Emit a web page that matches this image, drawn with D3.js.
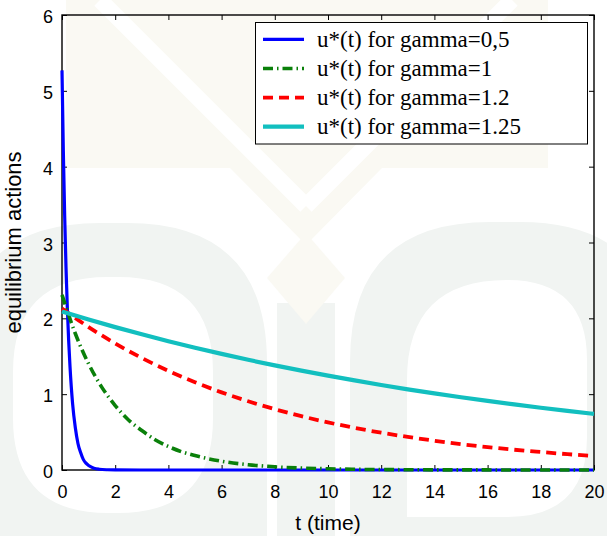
<!DOCTYPE html>
<html>
<head>
<meta charset="utf-8">
<script src="https://cdn.jsdelivr.net/npm/d3@7"></script>
<style>
  html, body { margin: 0; padding: 0; background: #ffffff; }
  svg { display: block; }
  .serif { font-family: "Liberation Serif", "Times New Roman", Times, "DejaVu Serif", "Noto Serif", serif; }
  .sans { font-family: "Liberation Sans", Arial, Helvetica, sans-serif; }
</style>
</head>
<body>
<svg id="chart" width="607" height="536"></svg>
<script>
// ---------------- data ----------------
const seriesNames = [
  "u*(t) for gamma=0,5",
  "u*(t) for gamma=1",
  "u*(t) for gamma=1.2",
  "u*(t) for gamma=1.25"
];
const tBlue  = [0, 0.05, 0.1, 0.15, 0.2, 0.25, 0.3, 0.4, 0.5, 0.6, 0.7, 0.8, 0.9, 1.0, 1.2, 1.4, 1.7, 2, 4, 6, 8, 10, 12, 14, 16, 18, 20];
const uBlue  = [5.27, 4.21, 3.36, 2.68, 2.14, 1.71, 1.37, 0.87, 0.56, 0.35, 0.23, 0.14, 0.09, 0.06, 0.024, 0.01, 0.003, 0.001, 0, 0, 0, 0, 0, 0, 0, 0, 0];
const tGreen = [0, 0.5, 1, 1.5, 2, 2.5, 3, 3.5, 4, 4.5, 5, 6, 7, 8, 9, 10, 11, 12, 14, 16, 18, 20];
const uGreen = [2.31, 1.80, 1.40, 1.09, 0.85, 0.66, 0.52, 0.40, 0.31, 0.24, 0.19, 0.115, 0.07, 0.042, 0.026, 0.016, 0.009, 0.006, 0.002, 0.001, 0, 0];
const tRed   = [0, 1, 2, 3, 4, 5, 6, 7, 8, 9, 10, 11, 12, 13, 14, 15, 16, 17, 18, 19, 20];
const uRed   = [2.13, 1.885, 1.669, 1.477, 1.307, 1.157, 1.024, 0.906, 0.802, 0.710, 0.628, 0.556, 0.492, 0.436, 0.386, 0.341, 0.302, 0.267, 0.237, 0.209, 0.185];
const tCyan  = [0, 1, 2, 3, 4, 5, 6, 7, 8, 9, 10, 11, 12, 13, 14, 15, 16, 17, 18, 19, 20];
const uCyan  = [2.09, 1.984, 1.884, 1.789, 1.698, 1.612, 1.531, 1.453, 1.380, 1.310, 1.244, 1.181, 1.121, 1.064, 1.010, 0.959, 0.911, 0.865, 0.821, 0.779, 0.740];
const xTickValues = [0, 2, 4, 6, 8, 10, 12, 14, 16, 18, 20];
const yTickValues = [0, 1, 2, 3, 4, 5, 6];
const xLabel = "t (time)";
const yLabel = "equilibrium actions";

// ---------------- styles ----------------
const styles = [
  { color: "#0000ff", width: 3.2, dash: null },
  { color: "#0a800a", width: 3.6, dash: "10,4,1.5,4" },
  { color: "#ff0000", width: 3.8, dash: "10,6" },
  { color: "#12bfbf", width: 4.2, dash: null }
];

const svg = d3.select("#chart");

// ---------------- faint watermark background ----------------
const wm = svg.append("g");
const gray = "#f1f4f2", beige = "#faf9f3";
wm.append("path").attr("fill", gray).attr("fill-rule", "evenodd")
  .attr("d", "M-40,600 L-40,363 Q-40,223 100,223 L127,223 Q267,223 267,363 L267,600 Z " +
             "M13,513 L13,372 Q13,277 108,277 L118,277 Q213,277 213,372 L213,418 Q213,513 118,513 L108,513 Q13,513 13,418 Z");
wm.append("rect").attr("fill", gray).attr("x", 277).attr("y", 303).attr("width", 58).attr("height", 240);
wm.append("path").attr("fill", gray).attr("fill-rule", "evenodd")
  .attr("d", "M350,600 L350,362 Q350,222 490,222 L520,222 Q660,222 660,362 L660,600 Z " +
             "M407,517 L407,380 Q407,280 507,280 Q587,280 587,360 L587,437 Q587,517 507,517 Z");
wm.append("path").attr("fill", beige)
  .attr("d", "M66,0 L548,0 L548,168 L382,168 L306,245 L230,168 L66,168 Z");
wm.append("path").attr("fill", beige)
  .attr("d", "M306,233 L345,278 L306,324 L267,278 Z");
wm.append("line").attr("x1", 100).attr("y1", 0).attr("x2", 306).attr("y2", 206)
  .attr("stroke", "#ffffff").attr("stroke-width", 16);
wm.append("line").attr("x1", 512).attr("y1", 0).attr("x2", 306).attr("y2", 206)
  .attr("stroke", "#ffffff").attr("stroke-width", 16);

// ---------------- scales ----------------
const x = d3.scaleLinear().domain([0, 20]).range([62, 594]);
const y = d3.scaleLinear().domain([0, 6]).range([470, 15]);

// ---------------- axes (ticks on all four sides, pointing inward) ----------------
function styleAxis(g) {
  g.attr("font-family", null).attr("font-size", null);
  g.select(".domain").remove();
  g.selectAll(".tick line").attr("stroke", "#000").attr("stroke-width", 1);
  g.selectAll(".tick text").attr("fill", "#000").attr("class", "sans").style("font-size", "18px");
}
svg.append("g").attr("transform", "translate(0,470)")
  .call(d3.axisBottom(x).tickValues(xTickValues).tickFormat(d3.format("d")).tickSizeInner(-5).tickSizeOuter(0).tickPadding(15))
  .call(styleAxis);
svg.append("g").attr("transform", "translate(0,15)")
  .call(d3.axisTop(x).tickValues(xTickValues).tickFormat("").tickSizeInner(-5).tickSizeOuter(0))
  .call(styleAxis);
svg.append("g").attr("transform", "translate(62,0)")
  .call(d3.axisLeft(y).tickValues(yTickValues).tickFormat(d3.format("d")).tickSizeInner(-5).tickSizeOuter(0).tickPadding(9))
  .call(styleAxis)
  .call(g => g.selectAll(".tick text").attr("dy", "0.42em"));
svg.append("g").attr("transform", "translate(594,0)")
  .call(d3.axisRight(y).tickValues(yTickValues).tickFormat("").tickSizeInner(-5).tickSizeOuter(0))
  .call(styleAxis);

// box
svg.append("rect")
  .attr("x", x(0)).attr("y", y(6))
  .attr("width", x(20) - x(0)).attr("height", y(0) - y(6))
  .attr("fill", "none").attr("stroke", "#000").attr("stroke-width", 1.4);

// ---------------- lines ----------------
const allSeries = [
  tBlue.map((t, i) => [t, uBlue[i]]),
  tGreen.map((t, i) => [t, uGreen[i]]),
  tRed.map((t, i) => [t, uRed[i]]),
  tCyan.map((t, i) => [t, uCyan[i]])
];
const line = d3.line().x(d => x(d[0])).y(d => y(d[1])).curve(d3.curveMonotoneX);
allSeries.forEach((pts, i) => {
  svg.append("path")
    .datum(pts)
    .attr("d", line)
    .attr("fill", "none")
    .attr("stroke", styles[i].color)
    .attr("stroke-width", styles[i].width)
    .attr("stroke-dasharray", styles[i].dash)
    .attr("stroke-linejoin", "round");
});

// ---------------- axis labels ----------------
svg.append("text")
  .attr("class", "sans")
  .attr("x", (x(0) + x(20)) / 2).attr("y", 530)
  .attr("text-anchor", "middle")
  .style("font-size", "21px")
  .attr("fill", "#000")
  .text(xLabel);
svg.append("text")
  .attr("class", "sans")
  .attr("transform", `translate(21,${(y(0) + y(6)) / 2}) rotate(-90)`)
  .attr("text-anchor", "middle")
  .style("font-size", "22px")
  .attr("fill", "#000")
  .text(yLabel);

// ---------------- legend ----------------
const lg = svg.append("g");
lg.append("rect")
  .attr("x", 255.5).attr("y", 22.5).attr("width", 332).attr("height", 121.5)
  .attr("fill", "#ffffff").attr("stroke", "#000").attr("stroke-width", 1);
const rowY = d3.scalePoint().domain(d3.range(seriesNames.length)).range([39.3, 126.7]);
seriesNames.forEach((name, i) => {
  const yy = rowY(i);
  lg.append("line")
    .attr("x1", 263).attr("x2", 304).attr("y1", yy).attr("y2", yy)
    .attr("stroke", styles[i].color)
    .attr("stroke-width", styles[i].width)
    .attr("stroke-dasharray", styles[i].dash);
  lg.append("text")
    .attr("class", "serif")
    .attr("x", 317).attr("y", yy + 7.5)
    .style("font-size", "23px")
    .attr("fill", "#000")
    .text(name);
});
</script>
</body>
</html>
